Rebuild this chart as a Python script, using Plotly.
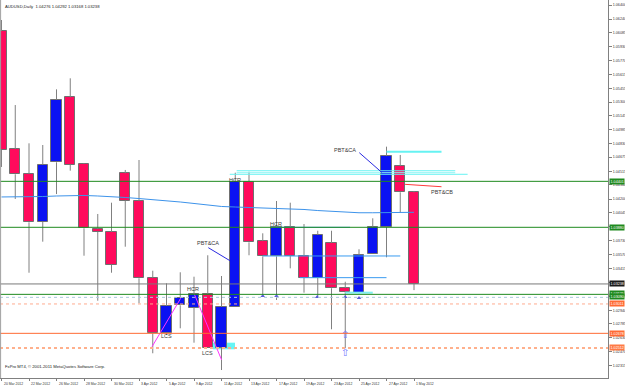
import plotly.graph_objects as go

# ---------------- data ----------------
date_labels = ["20 Mar 2012", "22 Mar 2012", "26 Mar 2012", "28 Mar 2012", "30 Mar 2012",
               "3 Apr 2012", "5 Apr 2012", "9 Apr 2012", "11 Apr 2012", "13 Apr 2012",
               "17 Apr 2012", "19 Apr 2012", "23 Apr 2012", "25 Apr 2012", "27 Apr 2012",
               "1 May 2012"]
label_bars = list(range(0, 31, 2))

opens = [1.06105, 1.04768, 1.04488, 1.03940, 1.04617, 1.05354, 1.04598, 1.03861, 1.03827, 1.04492,
         1.04182, 1.03309, 1.02678, 1.02996, 1.02969, 1.03124, 1.02515, 1.02980, 1.04397, 1.03725,
         1.03551, 1.03880, 1.03555, 1.03309, 1.03702, 1.03192, 1.03139, 1.03574, 1.03887, 1.04575,
         1.04276]
highs = [1.06230, 1.05266, 1.04832, 1.04813, 1.05444, 1.05569, 1.04606, 1.04031, 1.04159, 1.04530,
         1.04643, 1.03388, 1.03245, 1.03370, 1.03320, 1.03563, 1.03328, 1.04499, 1.04510, 1.03812,
         1.04178, 1.04159, 1.03917, 1.03841, 1.03841, 1.03263, 1.03631, 1.03982, 1.04794, 1.04700,
         1.04292]
lows = [1.04564, 1.04201, 1.03365, 1.03717, 1.04257, 1.04522, 1.03558, 1.03048, 1.03365, 1.03660,
        1.03018, 1.02452, 1.02659, 1.02735, 1.02572, 1.02512, 1.02262, 1.02980, 1.03563, 1.03093,
        1.03056, 1.03415, 1.03139, 1.03101, 1.02724, 1.02512, 1.03130, 1.03574, 1.03540, 1.04046,
        1.03168]
closes = [1.04756, 1.04481, 1.03937, 1.04590, 1.05326, 1.04590, 1.03869, 1.03827, 1.03453, 1.04182,
          1.03302, 1.02678, 1.02988, 1.03079, 1.03124, 1.02515, 1.02980, 1.04397, 1.03710, 1.03551,
          1.03887, 1.03558, 1.03309, 1.03793, 1.03189, 1.03150, 1.03569, 1.03880, 1.04687, 1.04277,
          1.03238]
ma_values = [1.04224, 1.04224, 1.04224, 1.04229, 1.04235, 1.04241, 1.04241, 1.04235, 1.04229, 1.04218,
             1.04206, 1.04195, 1.04178, 1.04167, 1.04150, 1.04133, 1.04116, 1.04110, 1.04104, 1.04099,
             1.04095, 1.04093, 1.04082, 1.04070, 1.04059, 1.04050, 1.04045, 1.04045, 1.04048, 1.04050,
             1.04050]

price_tick_labels = ["1.06400", "1.06240", "1.06085", "1.05930", "1.05770", "1.05615", "1.05455",
                     "1.05300", "1.05145", "1.04985", "1.04830", "1.04675", "1.04515", "1.04360",
                     "1.04200", "1.04045", "1.03885", "1.03730", "1.03570", "1.03415", "1.03260",
                     "1.03100", "1.02940", "1.02785", "1.02630", "1.02470", "1.02315", "1.02160"]
price_ticks = [float(t) for t in price_tick_labels]

# full-width horizontal levels: (price, colour, width, dash)
levels = [
    (1.04401, "#1f8a1f", 1, "solid"),
    (1.03880, "#1f8a1f", 1, "solid"),
    (1.03238, "#7a7a7a", 1, "solid"),
    (1.03120, "#1f8a1f", 1, "solid"),
    (1.03086, "#a9c9dc", 1, "dot"),
    (1.03011, "#ffab8f", 1, "dot"),
    (1.02678, "#ff6a33", 1, "solid"),
    (1.02512, "#ffb08c", 2, "dot"),
]
# coloured price tags on the right axis: (price, background)
tags = [
    (1.04401, "#1f8a1f"), (1.03880, "#1f8a1f"), (1.03238, "#1a1a1a"),
    (1.03125, "#1f8a1f"), (1.03090, "#1f8a1f"), (1.03011, "#ff6a33"),
    (1.02678, "#ff6a33"), (1.02512, "#ff7a45"),
]
# segments: (bar0, bar1, price0, price1, colour, width)
segments = [
    (19.6, 25.35, 1.03880, 1.03880, "#3a9bf0", 1),
    (19.0, 29.0, 1.03555, 1.03555, "#3a9bf0", 1),
    (21.7, 28.0, 1.03309, 1.03309, "#3a9bf0", 1),
    (25.0, 27.0, 1.03139, 1.03139, "#7ff0f0", 2),
    (28.0, 32.0, 1.04737, 1.04737, "#66f2f2", 2),
    (17.1, 33.0, 1.04521, 1.04521, "#66f2f2", 1),
    (17.1, 33.0, 1.04499, 1.04499, "#8ff5f5", 1),
    (16.6, 33.9, 1.04481, 1.04481, "#66f2f2", 1),
    (29.35, 32.0, 1.04367, 1.04340, "#ff3b3b", 1),
    (26.02, 27.65, 1.04726, 1.04503, "#2a2ae0", 1),
    (15.04, 16.62, 1.03649, 1.03501, "#2a2ae0", 1),
    (10.95, 13.03, 1.02527, 1.03075, "#ff33ff", 1),
    (14.02, 16.01, 1.03124, 1.02376, "#ff33ff", 1),
]
cyan_box = (15.38, 16.98, 1.02497, 1.02572)
# text labels: (text, bar, price)
notes = [
    ("PBT&CA", 24.98, 1.04756), ("PBT&CB", 32.0, 1.04280), ("PBT&CA", 15.02, 1.03702),
    ("HCR", 16.98, 1.04416), ("HCR", 19.96, 1.03917), ("HCR", 13.96, 1.03181),
    ("LCS", 12.01, 1.02651), ("LCS", 14.95, 1.02458),
]
fractal_bars = [19.0, 20.0, 22.96, 25.0, 26.0]
fractal_prices = [1.03101, 1.03101, 1.03090, 1.03090, 1.03079]
big_arrow_bars = [25.0, 25.0]
big_arrow_prices = [1.02659, 1.02455]

UP = "#0a12f2"
DOWN = "#ff0a5c"
FONT = "Liberation Sans, Arial, sans-serif"

# tick labels hidden behind the coloured price tags
tag_prices = [p for p, _ in tags]
shown_tick_text = [t if min(abs(v - q) for q in tag_prices) > 0.0003 else ""
                   for t, v in zip(price_tick_labels, price_ticks)]

# ---------------- figure ----------------
fig = go.Figure()
n = len(opens)
xs = list(range(n))
base = [min(o, c) for o, c in zip(opens, closes)]
height = [abs(c - o) for o, c in zip(opens, closes)]
colors = [UP if c >= o else DOWN for o, c in zip(opens, closes)]

fig.add_shape(type="rect", x0=cyan_box[0], x1=cyan_box[1], y0=cyan_box[2], y1=cyan_box[3],
              xref="x", yref="y", fillcolor="#66f5f5", line=dict(width=0), layer="below")

fig.add_trace(go.Bar(x=xs, y=height, base=base, width=0.76,
                     marker=dict(color=colors, line=dict(color="#707070", width=1)),
                     hoverinfo="skip", showlegend=False))

wx, wy = [], []
for i in range(n):
    top = max(opens[i], closes[i])
    bot = min(opens[i], closes[i])
    wx += [i, i, None, i, i, None]
    wy += [highs[i], top, None, bot, lows[i], None]
fig.add_trace(go.Scatter(x=wx, y=wy, mode="lines", line=dict(color="#808080", width=1),
                         hoverinfo="skip", showlegend=False))

for p, col, w, dash in levels:
    fig.add_shape(type="line", xref="paper", x0=0, x1=1, yref="y", y0=p, y1=p,
                  line=dict(color=col, width=w, dash=dash))

fig.add_trace(go.Scatter(x=xs, y=ma_values, mode="lines", line=dict(color="#3d93ea", width=1),
                         hoverinfo="skip", showlegend=False))

for b0, b1, p0, p1, col, w in segments:
    fig.add_trace(go.Scatter(x=[b0, b1], y=[p0, p1], mode="lines",
                             line=dict(color=col, width=w), hoverinfo="skip", showlegend=False))

fig.add_trace(go.Scatter(x=fractal_bars, y=fractal_prices, mode="markers",
                         marker=dict(symbol="triangle-up", size=4, color="#5b5bd6"),
                         hoverinfo="skip", showlegend=False))
fig.add_trace(go.Scatter(x=big_arrow_bars, y=big_arrow_prices, mode="text", text=["⇧", "⇧"],
                         textfont=dict(family="DejaVu Sans", size=10, color="#7373ff"),
                         hoverinfo="skip", showlegend=False))

for t, b, p in notes:
    fig.add_annotation(x=b, y=p, xref="x", yref="y", text=t, showarrow=False,
                       font=dict(family=FONT, size=5.5, color="#3a3a3a"))

for lbl, b in zip(date_labels, label_bars):
    fig.add_annotation(x=b, y=0, xref="x", yref="paper", text=lbl, showarrow=False,
                       xanchor="left", yanchor="top", yshift=-2,
                       font=dict(family=FONT, size=3.4, color="#333333"))

for p, bg in tags:
    fig.add_annotation(x=1, y=p, xref="paper", yref="y", text=f"{p:.5f}", showarrow=False,
                       xanchor="left", xshift=1, bgcolor=bg, borderpad=0.5,
                       font=dict(family=FONT, size=3.7, color="#ffffff"))

fig.add_annotation(x=0, y=1, xref="paper", yref="paper", xanchor="left", yanchor="top",
                   xshift=3, yshift=-2, showarrow=False,
                   text="AUDUSD,Daily  1.04276 1.04292 1.03168 1.03238",
                   font=dict(family=FONT, size=4.2, color="#222222"))
fig.add_annotation(x=0, y=0, xref="paper", yref="paper", xanchor="left", yanchor="bottom",
                   xshift=3, yshift=7, showarrow=False,
                   text="FxPro MT4, © 2001-2011 MetaQuotes Software Corp.",
                   font=dict(family=FONT, size=4.2, color="#222222"))

fig.add_shape(type="line", xref="paper", x0=0.001, x1=0.001, yref="paper", y0=0, y1=1,
              line=dict(color="#a0a0a0", width=1))

px_per_bar = 13.75
x0 = -1.5 / px_per_bar
x1 = (608 - 1.5) / px_per_bar
y_top = 1.064567
y_bot = 1.021717

fig.update_layout(
    width=625, height=386,
    margin=dict(l=0, r=17, t=0, b=8),
    paper_bgcolor="#ffffff", plot_bgcolor="#ffffff",
    showlegend=False, bargap=0,
    font=dict(family=FONT),
    xaxis=dict(range=[x0, x1], showgrid=False, zeroline=False, tickvals=label_bars,
               showticklabels=False, ticks="outside", ticklen=2, tickcolor="#808080",
               showline=True, linecolor="#808080", linewidth=1, fixedrange=True),
    yaxis=dict(range=[y_bot, y_top], side="right", showgrid=False, zeroline=False,
               tickvals=price_ticks, ticktext=shown_tick_text,
               tickfont=dict(family=FONT, size=3.7, color="#333333"),
               ticks="outside", ticklen=3, tickcolor="#808080",
               showline=True, linecolor="#808080", linewidth=1, fixedrange=True),
)

fig.write_html("out.html")
